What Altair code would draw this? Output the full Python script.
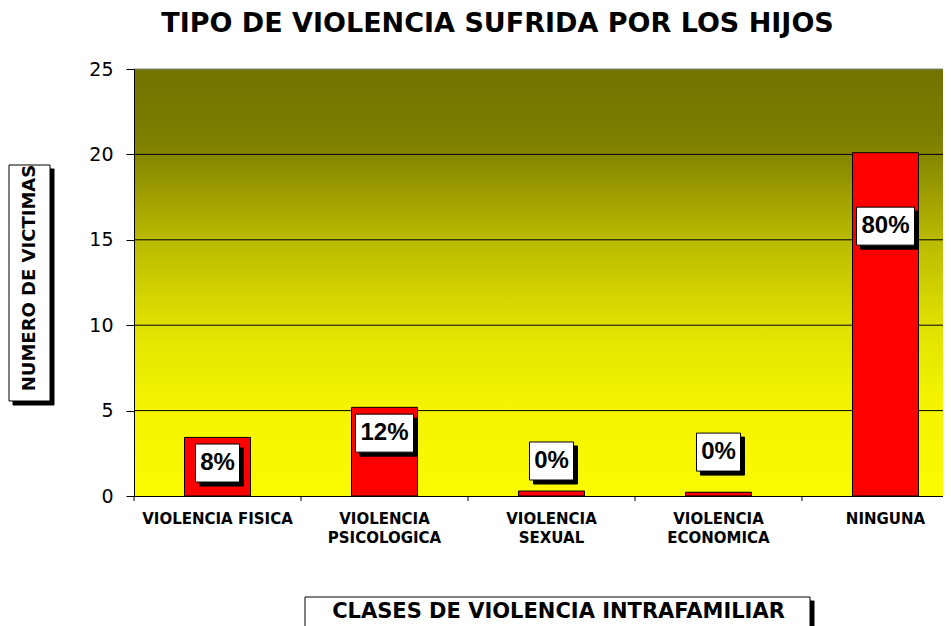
import altair as alt
import pandas as pd

# ---- data ----
categories = ["VIOLENCIA FISICA", "VIOLENCIA\nPSICOLOGICA", "VIOLENCIA\nSEXUAL",
              "VIOLENCIA\nECONOMICA", "NINGUNA"]
victims = [3.43, 5.19, 0.29, 0.22, 20.1]
pct_labels = ["8%", "12%", "0%", "0%", "80%"]
label_at = [1.93, 3.68, 2.05, 2.57, 15.8]      # where each data label sits (data units)
y_ticks = [0, 5, 10, 15, 20, 25]

title_text = "TIPO DE VIOLENCIA SUFRIDA POR LOS HIJOS"
y_title_text = "NUMERO DE VICTIMAS"
x_title_text = "CLASES DE VIOLENCIA INTRAFAMILIAR"

# ---- layout ----
W, H = 809, 427
BAND_RANGE = 835

df = pd.DataFrame({"cat": categories, "v": victims, "lab": pct_labels, "at": label_at})
grid_df = pd.DataFrame({"t": y_ticks[1:]})
one = pd.DataFrame({"k": [0]})

x_scale = alt.Scale(domain=categories, range=[0, BAND_RANGE], paddingInner=0, paddingOuter=0)
x_axis = alt.Axis(title=None, labelExpr="split(datum.label, '\\n')", labelFont="DejaVu Sans",
                  labelFontWeight="bold", labelFontSize=15, labelColor="black", labelAngle=0,
                  labelPadding=15, labelLineHeight=19.5, labelBaseline="top", labelOverlap=False,
                  labelLimit=300, ticks=False, tickSize=0, domain=True, domainColor="black",
                  domainWidth=1, grid=False, zindex=1)
y_scale = alt.Scale(domain=[0, 25], nice=False, zero=True)
y_axis = alt.Axis(title=None, values=y_ticks, grid=False, labelFont="DejaVu Sans", labelFontSize=19,
                  labelColor="black", tickSize=8, tickColor="black", tickWidth=1, labelPadding=13,
                  domainColor="black", domainWidth=1, zindex=1, format="d")


def X(field="cat:N", **kw):
    return alt.X(field, sort=categories, scale=x_scale, axis=x_axis, **kw)


def Y(field):
    return alt.Y(field, scale=y_scale, axis=y_axis)


grad = alt.LinearGradient(
    gradient="linear", x1=0, x2=0, y1=0, y2=1,
    stops=[
        alt.GradientStop(offset=0.0, color="#727200"),
        alt.GradientStop(offset=0.15, color="#7c7c00"),
        alt.GradientStop(offset=0.2, color="#858500"),
        alt.GradientStop(offset=0.4, color="#baba00"),
        alt.GradientStop(offset=0.6, color="#e0e000"),
        alt.GradientStop(offset=0.78, color="#f4f400"),
        alt.GradientStop(offset=1.0, color="#fafa00"),
    ],
)

background = alt.Chart(one).mark_rect(color=grad).encode(
    x=alt.value(0), x2=alt.value(W), y=alt.value(0), y2=alt.value(H))

grid = alt.Chart(grid_df).mark_rule(strokeWidth=1).encode(
    y=Y("t:Q"), x=alt.value(0), x2=alt.value(W),
    color=alt.when(alt.datum.t == 25).then(alt.value("#808080")).otherwise(alt.value("black")))

bars = alt.Chart(df).mark_bar(size=66, color="#ff0000", stroke="black", strokeWidth=1).encode(
    x=X(), y=Y("v:Q"))

tick_rules = alt.Chart(df).mark_rule(color="black", strokeWidth=1).encode(
    x=X(bandPosition=0), y=alt.value(H), y2=alt.value(H + 5))

box2 = "M-1.158,-1H1.158V1H-1.158Z"
shadow2 = "M-0.947,-0.789H1.368V1.211H-0.947Z"
box3 = "M-1.526,-1H1.526V1H-1.526Z"
shadow3 = "M-1.316,-0.789H1.737V1.211H-1.316Z"

base_lab = alt.Chart(df)


def label_box(path, filt, fill, stroke):
    return base_lab.transform_filter(filt).mark_point(
        shape=path, size=1444, filled=True, color=fill, fill=fill, stroke=stroke,
        strokeWidth=1, opacity=1).encode(x=X(), y=Y("at:Q"))


boxes = [
    label_box(shadow2, "length(datum.lab) == 2", "black", "black"),
    label_box(shadow3, "length(datum.lab) == 3", "black", "black"),
    label_box(box2, "length(datum.lab) == 2", "white", "black"),
    label_box(box3, "length(datum.lab) == 3", "white", "black"),
]

labels = base_lab.mark_text(font="Liberation Sans", fontWeight="bold", fontSize=24, color="black",
                            baseline="middle", align="center").encode(
    x=X(), y=Y("at:Q"), text="lab:N")

# ---- titles ----
title = alt.Chart(pd.DataFrame({"t": [title_text]})).mark_text(
    font="DejaVu Sans", fontWeight="bold", fontSize=27, color="black",
    align="center", baseline="alphabetic").encode(text="t:N", x=alt.value(363.5), y=alt.value(-37))


def rect(x0, x1, y0, y1, fill):
    return alt.Chart(one).mark_rect(fill=fill, stroke="black", strokeWidth=1).encode(
        x=alt.value(x0), x2=alt.value(x1), y=alt.value(y0), y2=alt.value(y1))


ytitle_shadow = rect(-121, -80, 100, 336, "black")
ytitle_box = rect(-125, -84, 96, 332, "white")
ytitle = alt.Chart(pd.DataFrame({"t": [y_title_text]})).mark_text(
    font="DejaVu Sans", fontWeight="bold", fontSize=18, color="black", angle=270,
    align="center", baseline="middle").encode(text="t:N", x=alt.value(-104), y=alt.value(209))

xtitle_shadow = rect(175, 680, 532, 566, "black")
xtitle_box = rect(171, 676, 528, 562, "white")
xtitle = alt.Chart(pd.DataFrame({"t": [x_title_text]})).mark_text(
    font="DejaVu Sans", fontWeight="bold", fontSize=21, color="black",
    align="center", baseline="alphabetic").encode(text="t:N", x=alt.value(424.5), y=alt.value(549))

chart = alt.layer(
    background, grid, bars, tick_rules, *boxes, labels,
    title, ytitle_shadow, ytitle_box, ytitle, xtitle_shadow, xtitle_box, xtitle,
).properties(
    width=W, height=H,
    padding={"left": 126, "top": 61, "right": 0, "bottom": 130},
    autosize=alt.AutoSizeParams(type="none"),
).configure_view(stroke=None)

chart.save("out.html", embed_options={"renderer": "svg", "actions": False})
